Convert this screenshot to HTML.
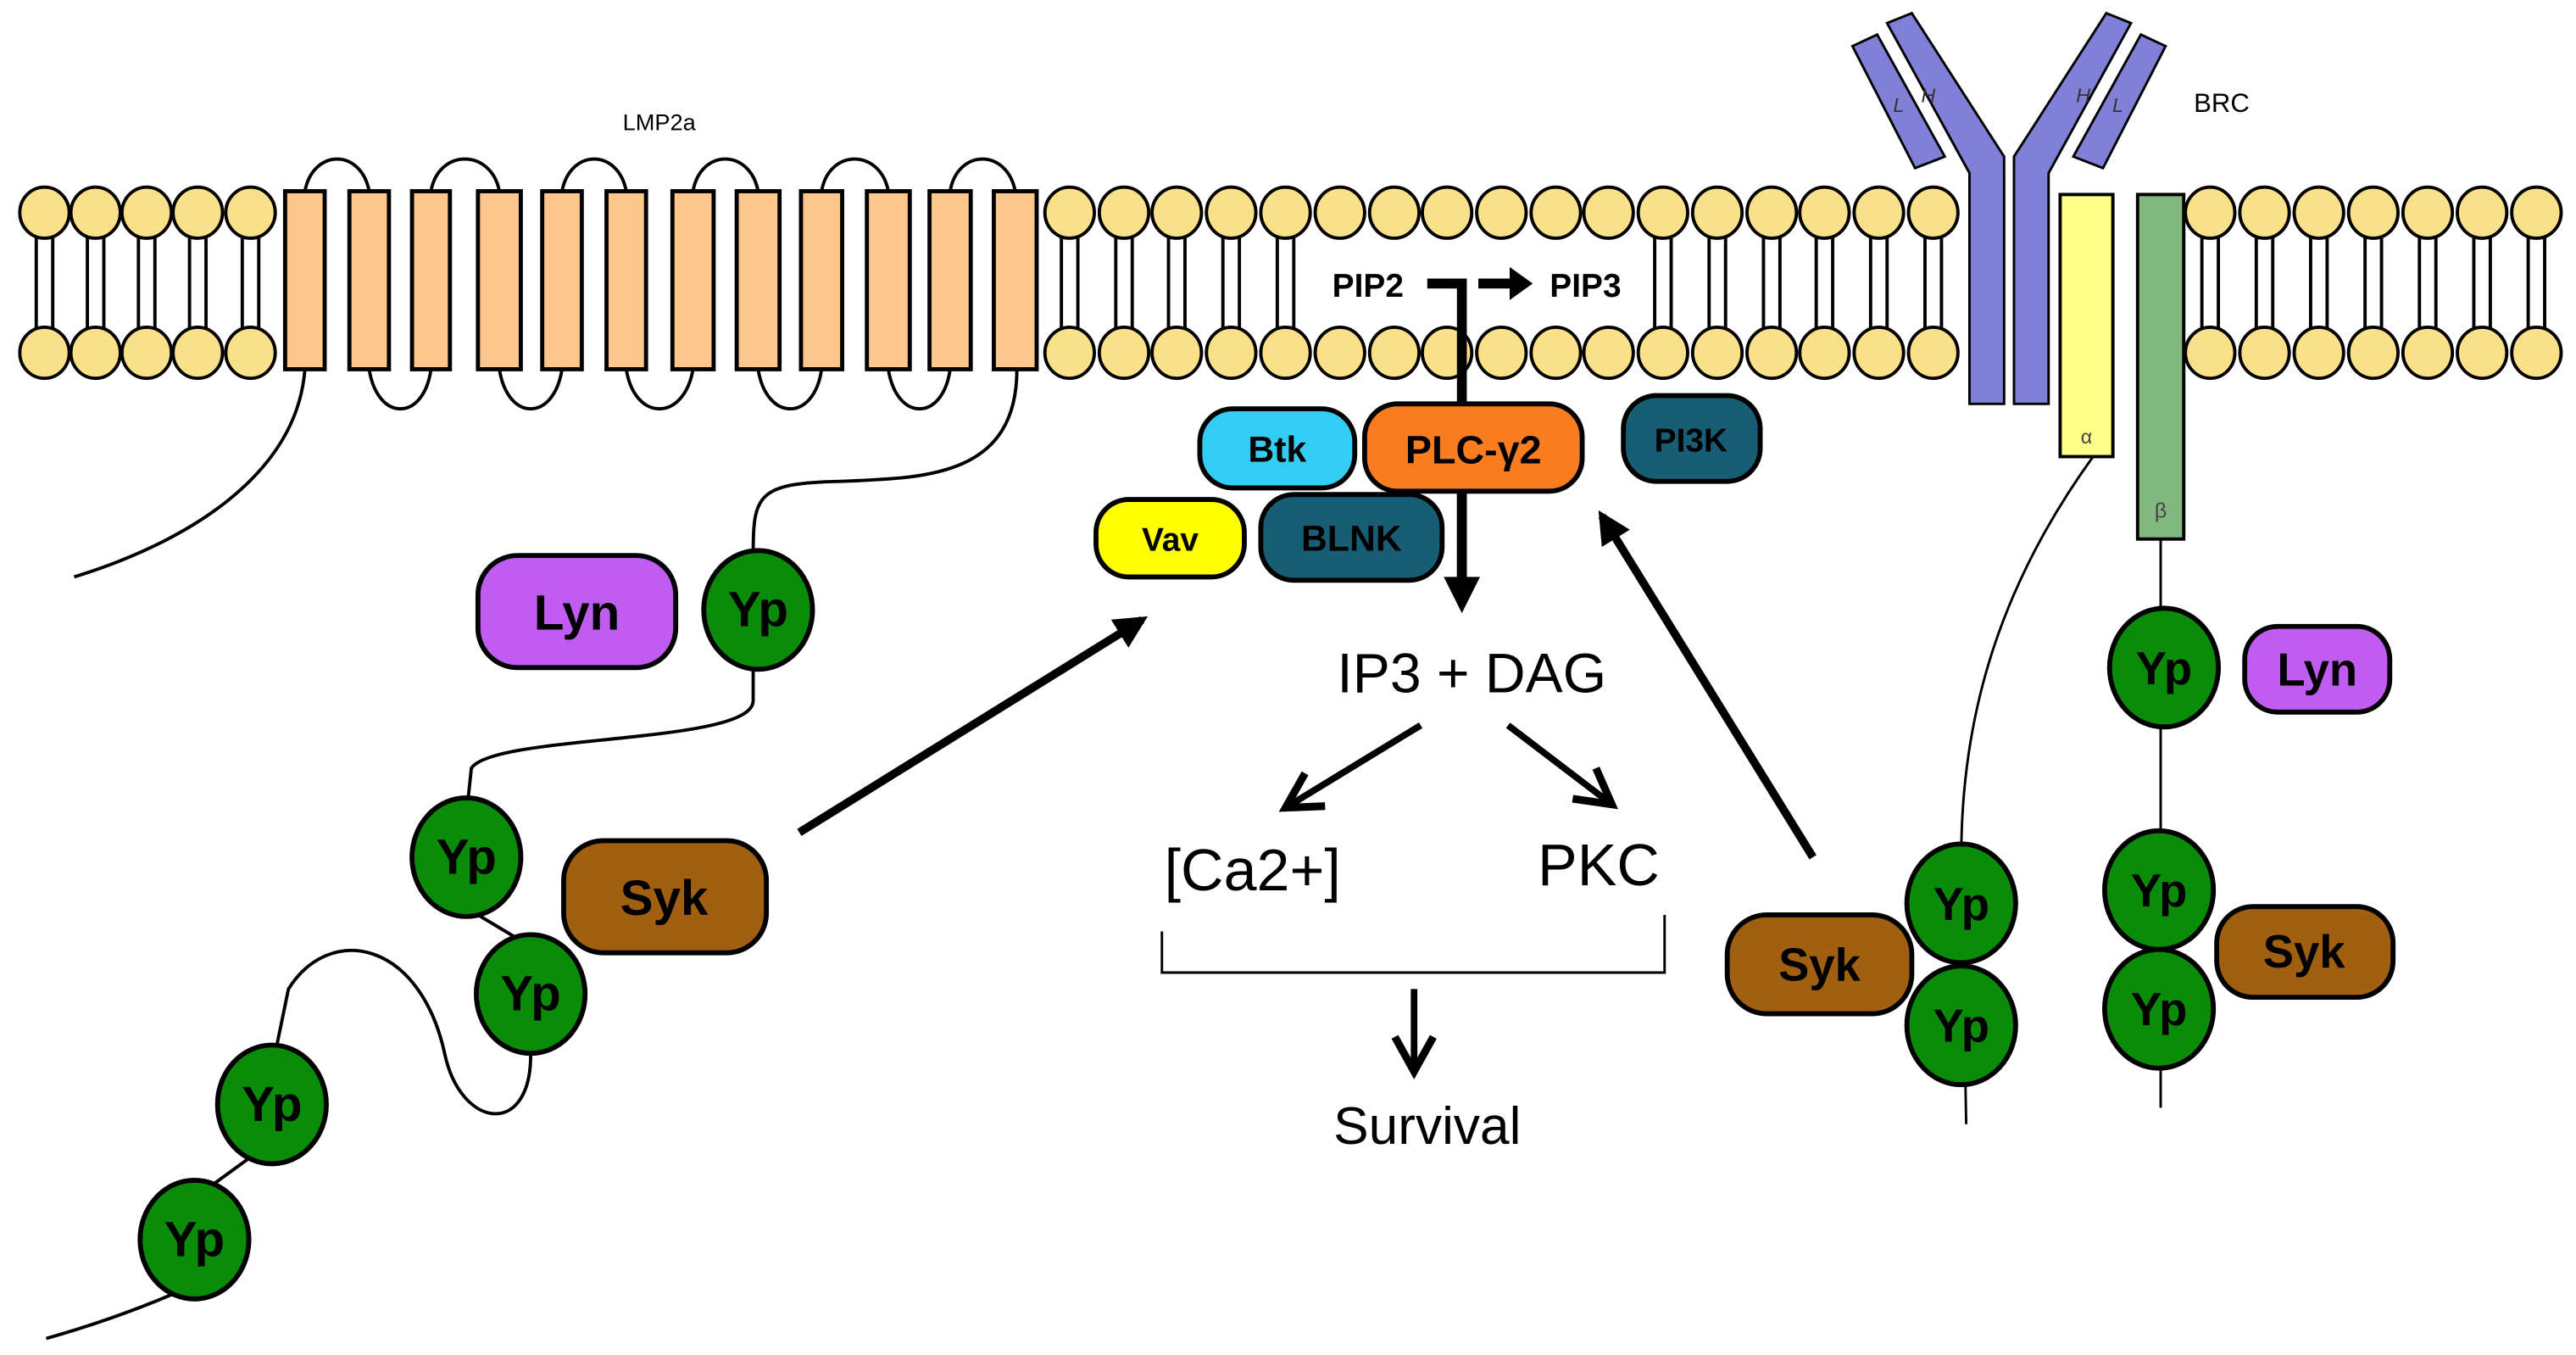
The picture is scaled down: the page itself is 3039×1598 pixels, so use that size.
<!DOCTYPE html>
<html><head><meta charset="utf-8"><style>
html,body{margin:0;padding:0;background:#fff;}
svg{display:block;}
text{font-family:"Liberation Sans",Arial,sans-serif;}
</style></head><body>
<svg width="3039" height="1598" viewBox="0 0 1563 822" preserveAspectRatio="none" xmlns="http://www.w3.org/2000/svg">
<defs>
<g id="lip" stroke="#000" stroke-width="2">
<line x1="-5" y1="142" x2="-5" y2="201"/><line x1="5" y1="142" x2="5" y2="201"/>
<ellipse cx="0" cy="129" rx="15" ry="15.5" fill="#fbe08a"/><ellipse cx="0" cy="214" rx="15" ry="15.5" fill="#fbe08a"/>
</g>
<g id="head" stroke="#000" stroke-width="2">
<ellipse cx="0" cy="129" rx="15" ry="15.5" fill="#fbe08a"/><ellipse cx="0" cy="214" rx="15" ry="15.5" fill="#fbe08a"/>
</g>
<marker id="ah" viewBox="0 0 10 10" refX="8" refY="5" markerWidth="4" markerHeight="4" orient="auto"><path d="M0,0 L10,5 L0,10 z" fill="#000"/></marker>
<marker id="ao" viewBox="0 0 12 12" refX="10" refY="6" markerWidth="7" markerHeight="7" orient="auto"><path d="M1,1 L10,6 L1,11" fill="none" stroke="#000" stroke-width="2"/></marker>
</defs>

<!-- lipids -->
<use href="#lip" x="27"/><use href="#lip" x="58"/><use href="#lip" x="89"/><use href="#lip" x="120"/><use href="#lip" x="152"/>
<use href="#lip" x="649"/><use href="#lip" x="682"/><use href="#lip" x="714"/><use href="#lip" x="747"/><use href="#lip" x="780"/>
<use href="#head" x="813"/><use href="#head" x="846"/><use href="#head" x="878"/><use href="#head" x="911"/><use href="#head" x="944"/><use href="#head" x="976"/>
<use href="#lip" x="1009"/><use href="#lip" x="1042"/><use href="#lip" x="1075"/><use href="#lip" x="1107"/><use href="#lip" x="1140"/><use href="#lip" x="1173"/>
<use href="#lip" x="1341"/><use href="#lip" x="1374"/><use href="#lip" x="1407"/><use href="#lip" x="1440"/><use href="#lip" x="1473"/><use href="#lip" x="1506"/><use href="#lip" x="1539"/>

<!-- LMP2a -->
<text x="400" y="79" font-size="14" text-anchor="middle">LMP2a</text>
<g fill="none" stroke="#000" stroke-width="2">
<path d="M185 116 C190 90,219 90,224 116"/><path d="M261.5 116 C266 90,298 90,303 116"/>
<path d="M341 116 C346 90,375 90,380 116"/><path d="M420.5 116 C425 90,455 90,460 116"/>
<path d="M498.5 116 C503 90,534 90,539 116"/><path d="M576.5 116 C581 90,611 90,616 116"/>
<path d="M224 224 C229 256,257 256,261.5 224"/><path d="M303 224 C308 256,336 256,341 224"/>
<path d="M380 224 C385 256,415 256,420.5 224"/><path d="M460 224 C465 256,494 256,498.5 224"/>
<path d="M539 224 C544 256,572 256,576.5 224"/>
<path d="M185 224 C180 290,110 330,45 350"/>
<path d="M617 224 C617 290,560 290,510 292 C460 293,457 300,457 335"/>
<path d="M457 405 L457 425 C457 452,300 445,286 466 L284 485"/>
<path d="M290 555 L315 570"/>
<path d="M322 640 C322 690,280 685,270 640 C255 570,200 560,175 600 L168 634"/>
<path d="M152 702 L130 718"/>
<path d="M105 785 Q70 800 28 812"/>
</g>
<g fill="#fdc68a" stroke="#000" stroke-width="2.5">
<rect x="173" y="116" width="24" height="108"/><rect x="212" y="116" width="24" height="108"/>
<rect x="250" y="116" width="23" height="108"/><rect x="290" y="116" width="26" height="108"/>
<rect x="329" y="116" width="24" height="108"/><rect x="368" y="116" width="24" height="108"/>
<rect x="408" y="116" width="25" height="108"/><rect x="447" y="116" width="26" height="108"/>
<rect x="486" y="116" width="25" height="108"/><rect x="526" y="116" width="26" height="108"/>
<rect x="564" y="116" width="25" height="108"/><rect x="603" y="116" width="26" height="108"/>
</g>

<!-- left proteins -->
<g stroke="#000" stroke-width="3">
<rect x="290" y="337" width="120" height="68" rx="24" fill="#c05cf0"/>
<ellipse cx="460" cy="370" rx="33" ry="36" fill="#0a8c0a"/>
<ellipse cx="283" cy="520" rx="33" ry="36" fill="#0a8c0a"/>
<ellipse cx="322" cy="603" rx="33" ry="36" fill="#0a8c0a"/>
<ellipse cx="165" cy="670" rx="33" ry="36" fill="#0a8c0a"/>
<ellipse cx="118" cy="752" rx="33" ry="36" fill="#0a8c0a"/>
<rect x="342" y="510" width="123" height="68" rx="24" fill="#a0600f"/>
</g>
<g font-weight="bold" font-size="30" text-anchor="middle" fill="#000">
<text x="350" y="382">Lyn</text><text x="460" y="380">Yp</text>
<text x="283" y="530">Yp</text><text x="322" y="613">Yp</text>
<text x="165" y="680">Yp</text><text x="118" y="762">Yp</text>
<text x="403" y="555">Syk</text>
</g>
<line x1="485" y1="505" x2="693" y2="376" stroke="#000" stroke-width="5" marker-end="url(#ah)"/>

<!-- PIP -->
<text x="830" y="180" font-size="20" font-weight="bold" text-anchor="middle">PIP2</text>
<text x="962" y="180" font-size="20" font-weight="bold" text-anchor="middle">PIP3</text>
<path d="M866 172 L887 172 L887 352" fill="none" stroke="#000" stroke-width="6"/>
<path d="M876 350 L898 350 L887 372 z" fill="#000"/>
<path d="M897 172 L918 172" stroke="#000" stroke-width="6"/>
<path d="M916 162 L930 172 L916 182 z" fill="#000"/>

<!-- center proteins -->
<g stroke="#000" stroke-width="3">
<rect x="728" y="248" width="94" height="48" rx="20" fill="#33ccf5"/>
<rect x="828" y="245" width="132" height="53" rx="20" fill="#f97c1f"/>
<rect x="985" y="240" width="83" height="52" rx="20" fill="#175e75"/>
<rect x="665" y="303" width="90" height="47" rx="20" fill="#ffff00"/>
<rect x="765" y="300" width="110" height="52" rx="20" fill="#175e75"/>
</g>
<line x1="887" y1="298" x2="887" y2="350" stroke="#000" stroke-width="6"/>
<g font-weight="bold" text-anchor="middle" fill="#000">
<text x="775" y="280" font-size="22">Btk</text>
<text x="894" y="281" font-size="24">PLC-γ2</text>
<text x="1026" y="274" font-size="20">PI3K</text>
<text x="710" y="334" font-size="20">Vav</text>
<text x="820" y="334" font-size="22">BLNK</text>
</g>

<text x="893" y="420" font-size="34" text-anchor="middle">IP3 + DAG</text>
<line x1="862" y1="440" x2="780" y2="490" stroke="#000" stroke-width="4" marker-end="url(#ao)"/>
<line x1="915" y1="440" x2="978" y2="488" stroke="#000" stroke-width="4" marker-end="url(#ao)"/>
<text x="760" y="540" font-size="36" text-anchor="middle">[Ca2+]</text>
<text x="970" y="537" font-size="36" text-anchor="middle">PKC</text>
<path d="M705 565 L705 590 L1010 590 L1010 555" fill="none" stroke="#000" stroke-width="1.5"/>
<line x1="858" y1="600" x2="858" y2="650" stroke="#000" stroke-width="4" marker-end="url(#ao)"/>
<text x="866" y="694" font-size="32" text-anchor="middle">Survival</text>
<line x1="1100" y1="520" x2="972" y2="313" stroke="#000" stroke-width="5" marker-end="url(#ah)"/>

<!-- BCR -->
<g fill="#8080d8" stroke="#000" stroke-width="1.5">
<polygon points="1145,14 1160,8 1216,95 1216,245 1195,245 1195,105"/>
<polygon points="1293,14 1278,8 1222,95 1222,245 1243,245 1243,105"/>
<polygon points="1124,28 1139,21 1180,95 1162,102"/>
<polygon points="1314,28 1299,21 1258,95 1276,102"/>
</g>
<g font-size="12" font-style="italic" fill="#333" text-anchor="middle">
<text x="1152" y="68">L</text><text x="1170" y="62">H</text>
<text x="1264" y="62">H</text><text x="1285" y="68">L</text>
</g>
<text x="1348" y="68" font-size="16" text-anchor="middle">BRC</text>
<rect x="1250" y="118" width="32" height="159" fill="#ffff88" stroke="#000" stroke-width="2"/>
<rect x="1297" y="118" width="28" height="209" fill="#80b880" stroke="#000" stroke-width="2"/>
<text x="1266" y="269" font-size="12" text-anchor="middle" fill="#444">α</text>
<text x="1311" y="314" font-size="13" text-anchor="middle" fill="#444">β</text>
<path d="M1270 277 C1210 360,1190 440,1190 520 L1193 682" fill="none" stroke="#000" stroke-width="1.5"/>
<line x1="1311" y1="327" x2="1311" y2="672" stroke="#000" stroke-width="1.5"/>
<g stroke="#000" stroke-width="3">
<rect x="1048" y="555" width="112" height="60" rx="24" fill="#a0600f"/>
<ellipse cx="1190" cy="548" rx="33" ry="36" fill="#0a8c0a"/>
<ellipse cx="1190" cy="622" rx="33" ry="36" fill="#0a8c0a"/>
<ellipse cx="1313" cy="405" rx="33" ry="36" fill="#0a8c0a"/>
<rect x="1362" y="380" width="88" height="52" rx="20" fill="#c05cf0"/>
<ellipse cx="1310" cy="540" rx="33" ry="36" fill="#0a8c0a"/>
<ellipse cx="1310" cy="612" rx="33" ry="36" fill="#0a8c0a"/>
<rect x="1345" y="550" width="107" height="55" rx="22" fill="#a0600f"/>
</g>
<g font-weight="bold" font-size="28" text-anchor="middle" fill="#000">
<text x="1104" y="595">Syk</text>
<text x="1190" y="558">Yp</text><text x="1190" y="632">Yp</text>
<text x="1313" y="415">Yp</text><text x="1406" y="416">Lyn</text>
<text x="1310" y="550">Yp</text><text x="1310" y="622">Yp</text>
<text x="1398" y="587">Syk</text>
</g>
</svg>
</body></html>
